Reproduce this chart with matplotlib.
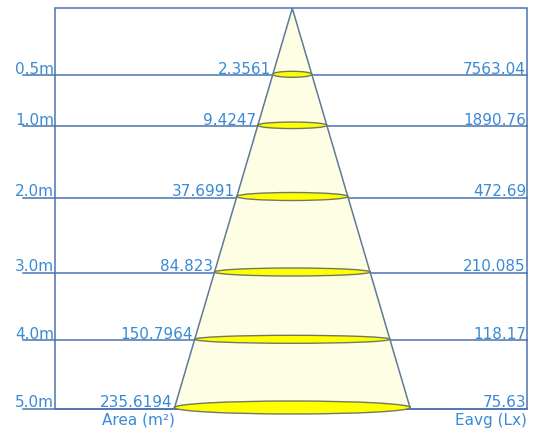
import matplotlib.pyplot as plt
from matplotlib.patches import Ellipse, Polygon, Rectangle

# data
distances = ["0.5m", "1.0m", "2.0m", "3.0m", "4.0m", "5.0m"]
areas = ["2.3561", "9.4247", "37.6991", "84.823", "150.7964", "235.6194"]
eavg = ["7563.04", "1890.76", "472.69", "210.085", "118.17", "75.63"]

# layout (pixel units of the 536x435 canvas)
row_y = [76.3, 127.3, 198.5, 274, 341.3, 409.5]
ell_h = [6, 6.5, 8, 8, 8, 13]
APEX_X, APEX_Y = 292.3, 9.3
BASE_HALF = 118
BOX_L, BOX_R = 55, 527
LINE_L = 23

LINE_C = "#4a72b0"
EDGE_C = "#5f7a98"
TEXT_C = "#3a8ad6"
FS = 11


def half_width(y):
    return (y - APEX_Y) / (row_y[-1] - APEX_Y) * BASE_HALF


fig = plt.figure(figsize=(5.36, 4.35), dpi=100)
ax = fig.add_axes([0, 0, 1, 1])
ax.set_xlim(0, 536)
ax.set_ylim(435, 0)
ax.set_axis_off()

# frame and distance lines
ax.add_patch(Rectangle((BOX_L, APEX_Y), BOX_R - BOX_L, row_y[-1] - APEX_Y,
                       fill=False, ec=LINE_C, lw=1.1, zorder=1))
for y in row_y:
    ax.plot([LINE_L, BOX_R], [y, y], color=LINE_C, lw=1.1, zorder=1)

# cone
hw = half_width(row_y[-1])
ax.add_patch(Polygon([(APEX_X, APEX_Y), (APEX_X - hw, row_y[-1]), (APEX_X + hw, row_y[-1])],
                     closed=True, fc="#fefee4", ec=EDGE_C, lw=1.1, zorder=2))

# light spots
for y, h in zip(row_y, ell_h):
    w = 2 * half_width(y)
    ax.add_patch(Ellipse((APEX_X, y - 1), w, h, fc="#ffff00", ec="#6f7a62", lw=1.0, zorder=3))

# labels
for d, a, e, y in zip(distances, areas, eavg, row_y):
    ax.text(BOX_L - 1, y - 2.5, d, ha="right", va="baseline", color=TEXT_C, fontsize=FS)
    ax.text(APEX_X - half_width(y) - 1.5, y - 2.5, a, ha="right", va="baseline",
            color=TEXT_C, fontsize=FS)
    ax.text(BOX_R - 1, y - 2.5, e, ha="right", va="baseline", color=TEXT_C, fontsize=FS)

ax.text(138, 413, "Area (m²)", ha="center", va="top", color=TEXT_C, fontsize=FS)
ax.text(BOX_R, 413, "Eavg (Lx)", ha="right", va="top", color=TEXT_C, fontsize=FS)

fig.savefig("out.png", dpi=100)
